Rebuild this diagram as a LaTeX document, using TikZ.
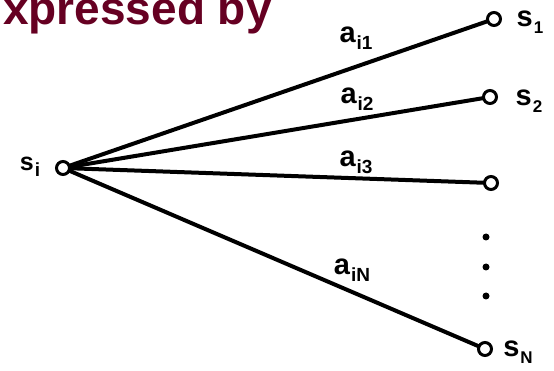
\documentclass[tikz,border=0pt]{standalone}
\usepackage{fontspec}
\setmainfont{Liberation Sans}
\definecolor{titlered}{RGB}{102,0,34}
\newcommand{\sublab}[4]{{\fontsize{#3}{#3}\selectfont #1}\kern1pt\raisebox{-0.25\dimexpr#3pt\relax}{\fontsize{#4}{#4}\selectfont #2}}
\begin{document}
\begin{tikzpicture}[x=1pt,y=-1pt,
  nodept/.style={circle,draw,line width=3pt,fill=white,minimum size=13pt,inner sep=0pt},
  edge/.style={line width=4pt},
  lab/.style={font=\bfseries,inner sep=0pt},
  dotpt/.style={circle,fill,minimum size=7pt,inner sep=0pt}]
\useasboundingbox (0,0) rectangle (554,371);
\clip (0,0) rectangle (554,371);
\node[anchor=base west,inner sep=0pt,text=titlered,font=\bfseries\fontsize{46}{46}\selectfont] (title) at (3,25) {xpressed by};
\coordinate (ci) at (63,168);
\coordinate (c1) at (494,19);
\coordinate (c2) at (490,97);
\coordinate (c3) at (491,183);
\coordinate (cN) at (485,349);
\draw[edge] (ci) -- (c1);
\draw[edge] (ci) -- (c2);
\draw[edge] (ci) -- (c3);
\draw[edge] (ci) -- (cN);
\node[nodept] (si) at (ci) {};
\node[nodept] (s1) at (c1) {};
\node[nodept] (s2) at (c2) {};
\node[nodept] (s3) at (c3) {};
\node[nodept] (sN) at (cN) {};
\node[dotpt] (d1) at (486,237) {};
\node[dotpt] (d2) at (486,267) {};
\node[dotpt] (d3) at (486,296) {};
\node[lab] (lsi) at (30,167) {\sublab{s}{i}{25}{19}};
\node[lab] (ls1) at (530,22) {\sublab{s}{1}{29}{17}};
\node[lab] (ls2) at (529,101) {\sublab{s}{2}{29}{17}};
\node[lab] (lsN) at (518,352) {\sublab{s}{N}{29}{17}};
\node[lab] (a1) at (356,38) {\sublab{a}{i1}{29}{19}};
\node[lab] (a2) at (357,99) {\sublab{a}{i2}{29}{19}};
\node[lab] (a3) at (356,162) {\sublab{a}{i3}{29}{19}};
\node[lab] (aN) at (352,270) {\sublab{a}{iN}{29}{19}};
\end{tikzpicture}
\end{document}
